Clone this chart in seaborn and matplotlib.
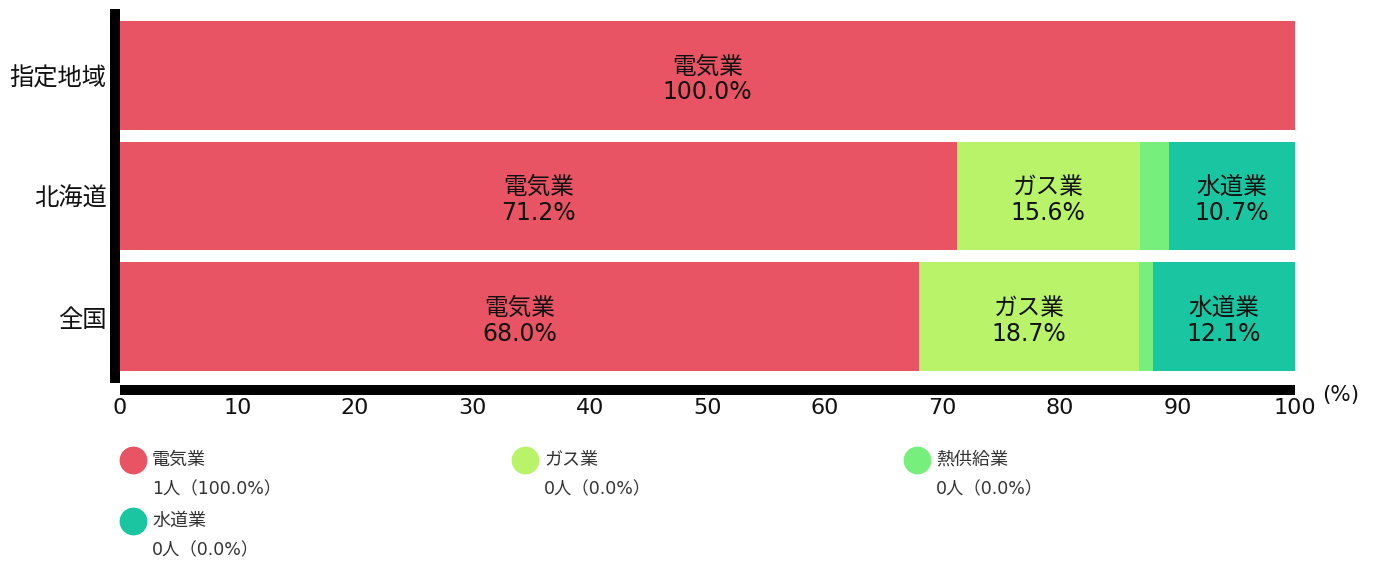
import numpy as np
import pandas as pd
import matplotlib.pyplot as plt
from matplotlib.lines import Line2D
import seaborn as sns

# data
regions = ['指定地域', '北海道', '全国']
industries = ['電気業', 'ガス業', '熱供給業', '水道業']
elec = [100.0, 71.2, 68.0]
gas = [0.0, 15.6, 18.7]
heat = [0.0, 2.5, 1.2]
water = [0.0, 10.7, 12.1]
legend_counts = [1, 0, 0, 0]
legend_pct = [100.0, 0.0, 0.0, 0.0]
colors = ['#E95464', '#B9F36A', '#77EF7C', '#19C6A1']

sns.set_style('white')
plt.rcParams['font.family'] = ['DejaVu Sans', 'Noto Sans CJK JP']

df = pd.DataFrame({'region': regions, '電気業': elec, 'ガス業': gas,
                   '熱供給業': heat, '水道業': water})
cum = df[industries].cumsum(axis=1)

fig = plt.figure(figsize=(13.84, 5.62), dpi=100)
ax = fig.add_axes([120 / 1384, 1 - 383 / 562, 1175 / 1384, 374 / 562])

# stacked bars: draw cumulative totals from the largest down
for ind, col in zip(industries[::-1], colors[::-1]):
    sns.barplot(x=cum[ind], y=df['region'], color=col, width=0.9,
                linewidth=0, saturation=1, orient='h', ax=ax)

for i, r in df.iterrows():
    for ind in industries:
        v = r[ind]
        if v >= 5:
            mid = cum.loc[i, ind] - v / 2
            ax.annotate(f'{ind}\n{v:.1f}%', (mid, i), xytext=(0, -3),
                        textcoords='offset points', ha='center', va='center',
                        fontsize=17, color='#111111', linespacing=1.1)

ax.set_xlim(0, 100)
ax.set_ylim(2.55, -0.55)
ax.set_xticks(np.arange(0, 101, 10))
ax.set_xlabel('')
ax.set_ylabel('')
for s in ['top', 'right']:
    ax.spines[s].set_visible(False)
ax.spines['left'].set_linewidth(7.2)
ax.spines['left'].set_position(('outward', 3.6))
ax.spines['bottom'].set_linewidth(7.2)
ax.spines['bottom'].set_position(('outward', 5))
for s in ['left', 'bottom']:
    ax.spines[s].set_color('black')
    ax.spines[s].set_capstyle('butt')
ax.tick_params(axis='y', length=0, pad=6, labelcolor='#111111')
ax.tick_params(axis='x', length=0, pad=6, labelsize=16, labelcolor='#111111')
for lab in ax.get_yticklabels():
    lab.set_fontfamily(['Noto Sans CJK JP'])
    lab.set_fontsize(17.5)
fig.text(1322 / 1384, 1 - 395 / 562, '(%)', fontsize=15.5, va='center',
         ha='left', color='#111111')

# legend
col_x = [133, 525, 917]
row_y = [460, 521]
for k, ind in enumerate(industries):
    cx = col_x[k % 3]
    cy = row_y[k // 3]
    fig.add_artist(Line2D([cx / 1384], [1 - cy / 562], marker='o',
                          markersize=19, color=colors[k], linestyle='none',
                          transform=fig.transFigure))
    fig.text((cx + 19) / 1384, 1 - cy / 562, ind, fontsize=13,
             va='center', ha='left', color='#333333')
    fig.text((cx + 19) / 1384, 1 - (cy + 29) / 562,
             f'{legend_counts[k]}人（{legend_pct[k]:.1f}%）', fontsize=12.5,
             va='center', ha='left', color='#333333')

fig.savefig('out.png', dpi=100)
